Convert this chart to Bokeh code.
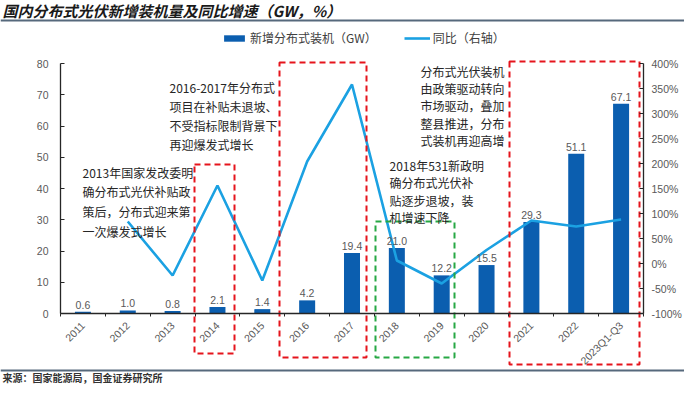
import math
import numpy as np
from bokeh.plotting import figure
from bokeh.models import (ColumnDataSource, Range1d, LinearAxis, FixedTicker,
                          PrintfTickFormatter, Legend, LegendItem, Span)
from bokeh.core.properties import value
from bokeh.embed import file_html
from bokeh.resources import INLINE

# ---------------- data ----------------
categories = ["2011", "2012", "2013", "2014", "2015", "2016", "2017",
              "2018", "2019", "2020", "2021", "2022", "2023Q1-Q3"]
installed_gw = [0.6, 1.0, 0.8, 2.1, 1.4, 4.2, 19.4, 21.0, 12.2, 15.5, 29.3, 51.1, 67.1]
yoy_pct = [np.nan, 84, -24, 156, -34, 204, 358, 6, -40, 27, 86, 74, 88]
left_ticks = [0, 10, 20, 30, 40, 50, 60, 70, 80]
right_ticks = [-100, -50, 0, 50, 100, 150, 200, 250, 300, 350, 400]

title_text = "国内分布式光伏新增装机量及同比增速（GW，%）"
source_text = "来源：国家能源局，国金证券研究所"
bar_name = "新增分布式装机（GW）"
line_name = "同比（右轴）"

notes = [
    "2013年国家发改委明\n确分布式光伏补贴政\n策后，分布式迎来第\n一次爆发式增长",
    "2016-2017年分布式\n项目在补贴未退坡、\n不受指标限制背景下\n再迎爆发式增长",
    "2018年531新政明\n确分布式光伏补\n贴逐步退坡，装\n机增速下降",
    "分布式光伏装机\n由政策驱动转向\n市场驱动，叠加\n整县推进，分布\n式装机再迎高增",
]

# ---------------- geometry (layout only) ----------------
W, H = 684, 385
n = len(categories)
frame_left_px, frame_right_px = 60, 643
px_per_cat = (frame_right_px - frame_left_px) / n
zero_px_from_top = 313
px_per_gw = 250 / 80.0
px_per_pct = 250 / 500.0

X0 = -0.5 - frame_left_px / px_per_cat
X1 = -0.5 + (W - frame_left_px) / px_per_cat
Y0 = -(H - zero_px_from_top) / px_per_gw
Y1 = zero_px_from_top / px_per_gw
R0 = -100 - (H - zero_px_from_top) / px_per_pct
R1 = -100 + zero_px_from_top / px_per_pct


def xpx(px):  # picture x -> data x
    return (px - 8 - frame_left_px) / px_per_cat - 0.5


def ypx(py):  # picture y -> data y (left axis units)
    return (zero_px_from_top - (py - 8)) / px_per_gw


p = figure(width=W, height=H, x_range=Range1d(X0, X1), y_range=Range1d(Y0, Y1),
           output_backend="svg", toolbar_location=None, min_border=0,
           min_border_left=0, min_border_right=0, min_border_top=0, min_border_bottom=0)
p.extra_y_ranges = {"right": Range1d(R0, R1)}
p.outline_line_color = None
p.xgrid.visible = False
p.ygrid.visible = False
p.background_fill_color = "white"
p.border_fill_color = "white"

xs = list(range(n))
src = ColumnDataSource(dict(x=xs, gw=installed_gw, lbl=[f"{v:.1f}" for v in installed_gw],
                            pct=yoy_pct))

bars = p.vbar(x="x", top="gw", width=0.357, source=src, fill_color="#0B5EAF",
              line_color=None)
line = p.line(x="x", y="pct", source=src, y_range_name="right", line_color="#1BA1E2",
              line_width=2.6)

p.text(x="x", y="gw", text="lbl", source=src, text_align="center", text_baseline="bottom",
       y_offset=-3, text_font=value("Liberation Sans"), text_font_size="10.5px",
       text_color="#595959")

# dashed highlight boxes
red = "#E5141C"
green = "#27A844"
p.quad(left=[xpx(202), xpx(287), xpx(517)], right=[xpx(242), xpx(374), xpx(647)],
       top=[ypx(172), ypx(70), ypx(69)], bottom=[ypx(361), ypx(365), ypx(372)],
       fill_color=None, line_color=red, line_width=2, line_dash="6 4")
p.quad(left=[xpx(383)], right=[xpx(462)], top=[ypx(229)], bottom=[ypx(365)],
       fill_color=None, line_color=green, line_width=2, line_dash="6 4")

# annotations
note_pos = [(90, 171, 1.16), (177, 86, 1.12), (397, 164, 1.03), (428, 70, 1.02)]
for txt, (nx, ny, lh) in zip(notes, note_pos):
    p.text(x=[xpx(nx)], y=[ypx(ny)], text=[txt], text_align="left", text_baseline="top",
           text_font=value("Noto Sans CJK SC"), text_font_size="12px",
           text_line_height=lh, text_color="#262626")

# title and source
p.text(x=[xpx(10)], y=[ypx(18)], text=[title_text], text_align="left",
       text_baseline="middle", text_font=value("Noto Sans CJK SC"),
       text_font_style="bold italic", text_font_size="15px", text_color="#1A1A1A")
p.add_layout(Span(location=ypx(28), dimension="width", line_color="#56697C", line_width=2))
p.add_layout(Span(location=ypx(378), dimension="width", line_color="#56697C", line_width=2))
p.text(x=[xpx(10)], y=[ypx(385)], text=[source_text], text_align="left",
       text_baseline="middle", text_font=value("Noto Sans CJK SC"),
       text_font_style="bold", text_font_size="10px", text_color="#333333")

# axes
ax_col = "#262626"
lab_col = "#595959"
xa = p.xaxis[0]
xa.ticker = FixedTicker(ticks=xs, minor_ticks=[i - 0.5 for i in range(n + 1)])
xa.major_label_overrides = {i: c for i, c in enumerate(categories)}
xa.major_label_orientation = math.pi / 4
xa.major_tick_line_color = None
xa.minor_tick_in = 0
xa.minor_tick_out = 3
xa.minor_tick_line_color = ax_col
xa.fixed_location = 0
xa.bounds = (-0.5, n - 0.5)
xa.axis_line_color = ax_col
xa.axis_line_width = 1.3
xa.major_label_text_font = "Liberation Sans"
xa.major_label_text_font_size = "10.5px"
xa.major_label_text_color = lab_col
xa.major_label_standoff = 4

ya = p.yaxis[0]
ya.ticker = FixedTicker(ticks=left_ticks)
ya.fixed_location = -0.5
ya.bounds = (0, 80)
ya.major_tick_in = 4
ya.major_tick_out = 0
ya.minor_tick_line_color = None
ya.axis_line_color = ax_col
ya.axis_line_width = 1.3
ya.major_tick_line_color = ax_col
ya.major_label_text_font = "Liberation Sans"
ya.major_label_text_font_size = "10.5px"
ya.major_label_text_color = lab_col
ya.major_label_standoff = 12

ra = LinearAxis(y_range_name="right", ticker=FixedTicker(ticks=right_ticks),
                formatter=PrintfTickFormatter(format="%d%%"))
ra.fixed_location = n - 0.5
ra.bounds = (-100, 400)
ra.major_tick_in = 4
ra.major_tick_out = 0
ra.minor_tick_line_color = None
ra.axis_line_color = ax_col
ra.axis_line_width = 1.3
ra.major_tick_line_color = ax_col
ra.major_label_text_font = "Liberation Sans"
ra.major_label_text_font_size = "10.5px"
ra.major_label_text_color = lab_col
ra.major_label_standoff = 8
p.add_layout(ra, "right")

# legend
legend = Legend(items=[LegendItem(label=bar_name, renderers=[bars]),
                       LegendItem(label=line_name, renderers=[line])],
                location=(221, 339), orientation="horizontal",
                glyph_width=26, glyph_height=8, label_height=14, label_standoff=3,
                spacing=27, padding=0, margin=0, border_line_color=None,
                background_fill_alpha=0, label_text_font="Noto Sans CJK SC",
                label_text_font_size="12px", label_text_color="#404040")
p.add_layout(legend)

open("out.html", "w").write(file_html(p, INLINE))
